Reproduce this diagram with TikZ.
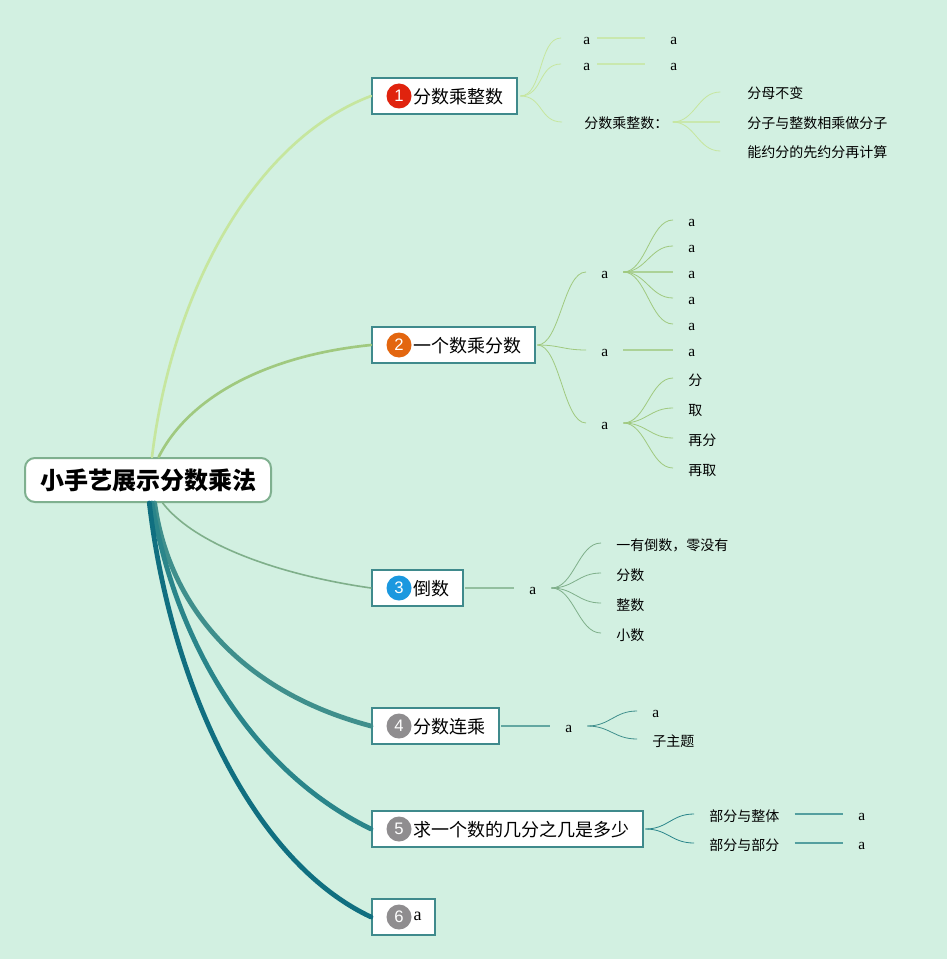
\documentclass[tikz,border=0pt]{standalone}
\usepackage{fontspec}
\usepackage{xcolor}
\setmainfont{Liberation Serif}
\newfontfamily\cjk{Noto Sans CJK SC}
\newfontfamily\numfont{Liberation Sans}
\definecolor{bgmint}{HTML}{D2F0E1}
\definecolor{topicline}{HTML}{3F8A8C}
\definecolor{rootline}{HTML}{7FB08F}
\definecolor{branchA}{HTML}{C6E69E}
\definecolor{branchB}{HTML}{A0C97F}
\definecolor{branchC}{HTML}{7FAF8A}
\definecolor{branchD}{HTML}{3F8F8C}
\definecolor{branchE}{HTML}{2A858A}
\definecolor{branchF}{HTML}{106F80}
\definecolor{badgered}{HTML}{E0230E}
\definecolor{badgeorange}{HTML}{E3660F}
\definecolor{badgeblue}{HTML}{1B98DF}
\definecolor{badgegray}{HTML}{8F8D8F}

\begin{document}
\begin{tikzpicture}[x=0.75pt,y=-0.75pt,
    root/.style={draw=rootline,fill=white,line width=1.5pt,rounded corners=7.5pt,
                 minimum width=184.5pt,minimum height=33pt,inner sep=0pt,
                 font=\cjk\bfseries\fontsize{18}{20}\selectfont},
    topic/.style={draw=topicline,fill=white,line width=1.5pt,anchor=west,
                  minimum height=27pt,inner ysep=0pt,inner xsep=10.25pt,
                  text height=13pt,text depth=1.5pt,
                  execute at begin node={\hspace*{21pt}},
                  font=\cjk\fontsize{13.5}{15}\selectfont},
    badge/.style={circle,minimum size=18.75pt,inner sep=0pt,text=white,
                  font=\numfont\fontsize{12.5}{15}\selectfont},
    leaf/.style={anchor=west,inner sep=0pt,text height=10.8pt,text depth=1.5pt,
                 font=\fontsize{11.5}{14}\selectfont},
    leafcn/.style={leaf,text height=12pt,font=\cjk\fontsize{10.5}{12}\selectfont},
    limb/.style={line cap=round},
    twig/.style={line width=0.6pt},
    stem/.style={line width=1pt,opacity=.75,shorten <=11.25pt,shorten >=11.25pt},
    wave/.style 2 args={to path={([xshift=#1]\tikztostart)
                 .. controls ([xshift=#1+17pt]\tikztostart) and ([xshift=-#2-17pt]\tikztotarget)
                 .. ([xshift=-#2]\tikztotarget)}}]
  \fill[bgmint] (0,0) rectangle (947,959);

  % main topics
  \node[root] (root) at (148,480) {小手艺展示分数乘法};
  \node[topic] (t1) at (371,96)  {分数乘整数};
  \node[topic] (t2) at (371,345) {一个数乘分数};
  \node[topic] (t3) at (371,588) {倒数};
  \node[topic] (t4) at (371,726) {分数连乘};
  \node[topic] (t5) at (371,829) {求一个数的几分之几是多少};
  \node[topic,font=\fontsize{13.5}{15}\selectfont,text height=11pt,text depth=6.5pt] (t6) at (371,917) {a};

  \node[badge,fill=badgered]    (b1) at (399,96)  {1};
  \node[badge,fill=badgeorange] (b2) at (399,345) {2};
  \node[badge,fill=badgeblue]   (b3) at (399,588) {3};
  \node[badge,fill=badgegray]   (b4) at (399,726) {4};
  \node[badge,fill=badgegray]   (b5) at (399,829) {5};
  \node[badge,fill=badgegray]   (b6) at (399,917) {6};

  % branches from the root
  \draw[limb,branchA,line width=2pt] ([xshift=3pt]root.north) .. controls (172,290) and (255,140) .. (t1.west);
  \draw[limb,branchB,line width=2pt] ([xshift=8pt]root.north) .. controls (190,395) and (270,355) .. (t2.west);
  \draw[limb,branchC,line width=1.2pt] ([xshift=11pt]root.south) .. controls (195,545) and (280,575) .. (t3.west);
  \draw[limb,branchD,line width=3.6pt] ([xshift=5pt]root.south) .. controls (168,600) and (235,690) .. (t4.west);
  \draw[limb,branchE,line width=3.6pt] ([xshift=3pt]root.south) .. controls (175,640) and (250,770) .. (t5.west);
  \draw[limb,branchF,line width=3.6pt] ([xshift=1pt]root.south) .. controls (170,680) and (250,860) .. (t6.west);

  % first topic
  \node[leaf] (a1) at (583,38) {a};
  \node[leaf] (a2) at (583,64) {a};
  \node[leafcn] (a3) at (584,122) {分数乘整数：};
  \node[leaf] (a1x) at (670,38) {a};
  \node[leaf] (a2x) at (670,64) {a};
  \node[leafcn] (a3x) at (747,92)  {分母不变};
  \node[leafcn] (a3y) at (747,122) {分子与整数相乘做分子};
  \node[leafcn] (a3z) at (747,151) {能约分的先约分再计算};
  \begin{scope}[branchA]
    \draw[twig] (t1.east) to[wave={1.5pt}{16.5pt}] (a1.west);
    \draw[twig] (t1.east) to[wave={1.5pt}{16.5pt}] (a2.west);
    \draw[twig] (t1.east) to[wave={1.5pt}{16.5pt}] (a3.west);
    \draw[stem,shorten <=5.25pt,shorten >=18.75pt] (a1.east) -- (a1x.west);
    \draw[stem,shorten <=5.25pt,shorten >=18.75pt] (a2.east) -- (a2x.west);
    \draw[twig] (a3.east) to[wave={3pt}{20pt}] (a3x.west);
    \draw[stem,shorten <=3pt,shorten >=20pt] (a3.east) -- (a3y.west);
    \draw[twig] (a3.east) to[wave={3pt}{20pt}] (a3z.west);
  \end{scope}

  % second topic
  \node[leaf] (c1) at (601,272) {a};
  \node[leaf] (c2) at (601,350) {a};
  \node[leaf] (c3) at (601,423) {a};
  \foreach \n/\y in {p/220,q/246,r/272,s/298,u/324,v/350}
    \node[leaf] (c\n) at (688,\y) {a};
  \node[leafcn] (d1) at (688,378) {分};
  \node[leafcn] (d2) at (688,408) {取};
  \node[leafcn] (d3) at (688,438) {再分};
  \node[leafcn] (d4) at (688,468) {再取};
  \begin{scope}[branchB]
    \foreach \n in {c1,c2,c3}
      \draw[twig] (t2.east) to[wave={0.75pt}{11.25pt}] (\n.west);
    \foreach \n in {cp,cq,cs,cu}
      \draw[twig] (c1.east) to[wave={11.25pt}{11.25pt}] (\n.west);
    \draw[stem] (c1.east) -- (cr.west);
    \draw[stem] (c2.east) -- (cv.west);
    \foreach \n in {d1,d2,d3,d4}
      \draw[twig] (c3.east) to[wave={11.25pt}{11.25pt}] (\n.west);
  \end{scope}

  % third topic
  \node[leaf] (e1) at (529,588) {a};
  \node[leafcn] (e2) at (616,543) {一有倒数，零没有};
  \node[leafcn] (e3) at (616,573) {分数};
  \node[leafcn] (e4) at (616,603) {整数};
  \node[leafcn] (e5) at (616,633) {小数};
  \begin{scope}[branchC]
    \draw[stem,shorten <=0.75pt] (t3.east) -- (e1.west);
    \foreach \n in {e2,e3,e4,e5}
      \draw[twig] (e1.east) to[wave={11.25pt}{11.25pt}] (\n.west);
  \end{scope}

  % fourth topic
  \node[leaf] (f1) at (565,726) {a};
  \node[leaf] (f2) at (652,711) {a};
  \node[leafcn] (f3) at (652,739) {子主题};
  \begin{scope}[branchD]
    \draw[stem,shorten <=0.75pt] (t4.east) -- (f1.west);
    \draw[twig] (f1.east) to[wave={11.25pt}{11.25pt}] (f2.west);
    \draw[twig] (f1.east) to[wave={11.25pt}{11.25pt}] (f3.west);
  \end{scope}

  % fifth topic
  \node[leafcn] (g1) at (709,814) {部分与整体};
  \node[leafcn] (g2) at (709,843) {部分与部分};
  \node[leaf] (g1x) at (858,814) {a};
  \node[leaf] (g2x) at (858,843) {a};
  \begin{scope}[branchE]
    \draw[twig] (t5.east) to[wave={0.75pt}{11.25pt}] (g1.west);
    \draw[twig] (t5.east) to[wave={0.75pt}{11.25pt}] (g2.west);
    \draw[stem] (g1.east) -- (g1x.west);
    \draw[stem] (g2.east) -- (g2x.west);
  \end{scope}
\end{tikzpicture}
\end{document}
